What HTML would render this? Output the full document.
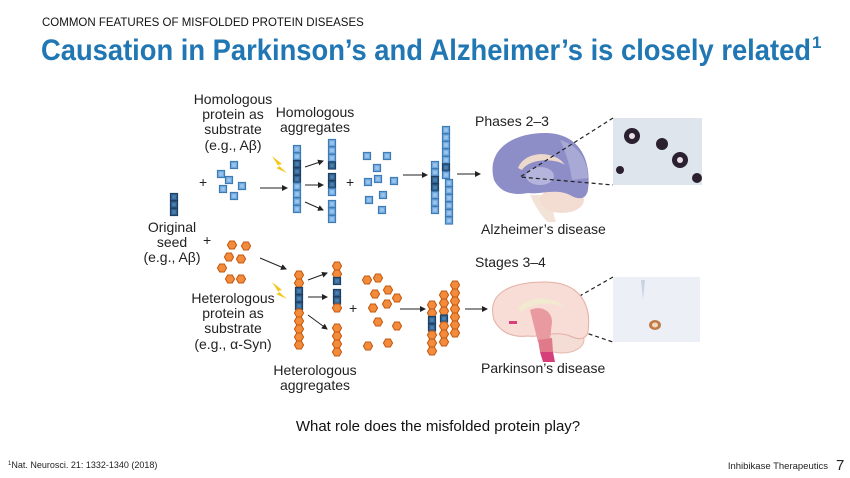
<!DOCTYPE html>
<html><head><meta charset="utf-8"><style>
html,body{margin:0;padding:0;background:#fff}
svg{display:block}
text{font-family:"Liberation Sans",Arial,sans-serif}
</style></head><body>
<svg width="850" height="478" viewBox="0 0 850 478" xmlns="http://www.w3.org/2000/svg">
<defs>
<symbol id="b" overflow="visible"><rect x="-3.6" y="-3.6" width="7.2" height="7.2" fill="#6ea8de" stroke="#3a76b0" stroke-width="1"/><rect x="-1.8" y="-1.8" width="3.6" height="3.6" fill="#9cc5ec"/></symbol>
<symbol id="d" overflow="visible"><rect x="-3.6" y="-3.6" width="7.2" height="7.2" fill="#2f5f8c" stroke="#1d3d5e" stroke-width="1"/><rect x="-1.8" y="-1.8" width="3.6" height="3.6" fill="#4a7fae"/></symbol>
<symbol id="h" overflow="visible"><polygon points="-4.6,0 -2.3,-4 2.3,-4 4.6,0 2.3,4 -2.3,4" fill="#f28b3b" stroke="#c2570f" stroke-width="1"/></symbol>
<marker id="ar" markerWidth="6" markerHeight="6" refX="5" refY="3" orient="auto"><path d="M0,0 L6,3 L0,6 z" fill="#222"/></marker>
</defs>

<text x="42" y="26" font-size="11.5" fill="#111">COMMON FEATURES OF MISFOLDED PROTEIN DISEASES</text>
<text x="41" y="60" font-size="30" font-weight="bold" fill="#2177b3" textLength="770" lengthAdjust="spacingAndGlyphs">Causation in Parkinson’s and Alzheimer’s is closely related</text>
<text x="812" y="48" font-size="17" font-weight="bold" fill="#2177b3">1</text>

<g font-size="14" fill="#222" text-anchor="middle">
<text x="233" y="104">Homologous</text><text x="233" y="119">protein as</text><text x="233" y="134">substrate</text><text x="233" y="150">(e.g., Aβ)</text>
<text x="315" y="117">Homologous</text><text x="315" y="132">aggregates</text>
<text x="172" y="232">Original</text><text x="172" y="247">seed</text><text x="172" y="262">(e.g., Aβ)</text>
<text x="233" y="303">Heterologous</text><text x="233" y="318">protein as</text><text x="233" y="333">substrate</text><text x="233" y="349">(e.g., α-Syn)</text>
<text x="315" y="375">Heterologous</text><text x="315" y="390">aggregates</text>
</g>
<g font-size="14" fill="#222">
<text x="475" y="126">Phases 2–3</text>
<text x="481" y="234">Alzheimer’s disease</text>
<text x="475" y="267">Stages 3–4</text>
<text x="481" y="373">Parkinson’s disease</text>
<text x="199" y="187">+</text><text x="346" y="187">+</text>
<text x="203" y="245">+</text><text x="349" y="313">+</text>
</g>

<!-- seed -->
<use href="#d" x="174" y="197"/><use href="#d" x="174" y="204.5"/><use href="#d" x="174" y="212"/>
<!-- blue monomers 1 -->
<use href="#b" x="234" y="165"/><use href="#b" x="221" y="174"/><use href="#b" x="229" y="180"/><use href="#b" x="242" y="186"/><use href="#b" x="223" y="189"/><use href="#b" x="234" y="196"/>
<!-- lightning -->
<polygon points="272,156 282,164 278,165 287,173 276,168 279,167" fill="#f5c518"/>
<polygon points="272,282 282,290 278,291 287,299 276,294 279,293" fill="#f5c518"/>
<!-- main blue column -->
<g>
<use href="#b" x="297" y="149"/><use href="#b" x="297" y="156.5"/><use href="#d" x="297" y="164"/><use href="#d" x="297" y="171.5"/><use href="#d" x="297" y="179"/><use href="#b" x="297" y="186.5"/><use href="#b" x="297" y="194"/><use href="#b" x="297" y="201.5"/><use href="#b" x="297" y="209"/>
</g>
<g stroke="#222" stroke-width="1" marker-end="url(#ar)">
<line x1="260" y1="188" x2="287" y2="188"/>
<line x1="305" y1="167" x2="323" y2="161"/><line x1="305" y1="185" x2="323" y2="185"/><line x1="305" y1="202" x2="323" y2="210"/>
<line x1="403" y1="175" x2="427" y2="175"/><line x1="457" y1="174" x2="480" y2="174"/>
<line x1="260" y1="258" x2="286" y2="269"/>
<line x1="308" y1="280" x2="327" y2="273"/><line x1="308" y1="297" x2="327" y2="297"/><line x1="308" y1="315" x2="327" y2="329"/>
<line x1="400" y1="309" x2="425" y2="309"/><line x1="465" y1="309" x2="487" y2="309"/>
</g>
<!-- small blue columns -->
<use href="#b" x="332" y="143"/><use href="#b" x="332" y="150.5"/><use href="#b" x="332" y="158"/><use href="#d" x="332" y="165.5"/>
<use href="#d" x="332" y="177"/><use href="#d" x="332" y="184.5"/><use href="#b" x="332" y="192"/>
<use href="#b" x="332" y="204"/><use href="#b" x="332" y="211.5"/><use href="#b" x="332" y="219"/>
<!-- blue monomers 2 -->
<use href="#b" x="367" y="156"/><use href="#b" x="387" y="156"/><use href="#b" x="377" y="168"/><use href="#b" x="368" y="182"/><use href="#b" x="378" y="179"/><use href="#b" x="394" y="181"/><use href="#b" x="369" y="200"/><use href="#b" x="383" y="195"/><use href="#b" x="382" y="210"/>
<!-- big blue aggregate -->
<use href="#b" x="435" y="165"/><use href="#b" x="435" y="172.5"/><use href="#d" x="435" y="180"/><use href="#d" x="435" y="187.5"/><use href="#b" x="435" y="195"/><use href="#b" x="435" y="202.5"/><use href="#b" x="435" y="210"/>
<use href="#b" x="446" y="130"/><use href="#b" x="446" y="137.5"/><use href="#b" x="446" y="145"/><use href="#b" x="446" y="152.5"/><use href="#b" x="446" y="160"/><use href="#d" x="446" y="167.5"/><use href="#b" x="446" y="175"/>
<use href="#b" x="449" y="183"/><use href="#b" x="449" y="190.5"/><use href="#b" x="449" y="198"/><use href="#b" x="449" y="205.5"/><use href="#b" x="449" y="213"/><use href="#b" x="449" y="220.5"/>

<!-- orange monomers 1 -->
<use href="#h" x="232" y="245"/><use href="#h" x="246" y="246"/><use href="#h" x="229" y="257"/><use href="#h" x="241" y="259"/><use href="#h" x="222" y="268"/><use href="#h" x="230" y="279"/><use href="#h" x="241" y="279"/>
<!-- main orange column -->
<use href="#h" x="299" y="275"/><use href="#h" x="299" y="283"/><use href="#d" x="299" y="291"/><use href="#d" x="299" y="298.5"/><use href="#d" x="299" y="306"/><use href="#h" x="299" y="313"/><use href="#h" x="299" y="321"/><use href="#h" x="299" y="329"/><use href="#h" x="299" y="337"/><use href="#h" x="299" y="345"/>
<!-- small orange columns -->
<use href="#h" x="337" y="266"/><use href="#h" x="337" y="274"/><use href="#d" x="337" y="281"/>
<use href="#d" x="337" y="293"/><use href="#d" x="337" y="300.5"/><use href="#h" x="337" y="308"/>
<use href="#h" x="337" y="328"/><use href="#h" x="337" y="336"/><use href="#h" x="337" y="344"/><use href="#h" x="337" y="352"/>
<!-- orange monomers 2 -->
<use href="#h" x="367" y="280"/><use href="#h" x="378" y="278"/><use href="#h" x="388" y="290"/><use href="#h" x="375" y="294"/><use href="#h" x="397" y="298"/><use href="#h" x="373" y="308"/><use href="#h" x="387" y="304"/><use href="#h" x="378" y="322"/><use href="#h" x="397" y="326"/><use href="#h" x="368" y="346"/><use href="#h" x="388" y="343"/>
<!-- orange aggregates -->
<use href="#h" x="432" y="305"/><use href="#h" x="432" y="313"/><use href="#d" x="432" y="320"/><use href="#d" x="432" y="327.5"/><use href="#h" x="432" y="335"/><use href="#h" x="432" y="343"/><use href="#h" x="432" y="351"/>
<use href="#h" x="444" y="295"/><use href="#h" x="444" y="303"/><use href="#h" x="444" y="311"/><use href="#d" x="444" y="318.5"/><use href="#h" x="444" y="326"/><use href="#h" x="444" y="334"/><use href="#h" x="444" y="342"/>
<use href="#h" x="455" y="285"/><use href="#h" x="455" y="293"/><use href="#h" x="455" y="301"/><use href="#h" x="455" y="309"/><use href="#h" x="455" y="317"/><use href="#h" x="455" y="325"/><use href="#h" x="455" y="333"/>

<!-- AD brain -->
<path d="M530,195 C535,205 540,215 548,222 L556,222 C552,212 552,202 556,195 Z" fill="#f3e3d6"/>
<ellipse cx="562" cy="200" rx="22" ry="13" fill="#f3ddd2"/>
<path d="M494,180 C486,150 512,133 545,133 C578,133 592,158 588,190 C586,200 578,200 570,195 C555,188 540,195 528,193 C512,196 500,192 494,180 Z" fill="#8d8dc8"/>
<path d="M560,140 C578,145 588,160 588,178 L572,180 C570,165 565,150 560,140 Z" fill="#a9a9d6"/>
<path d="M518,168 C525,150 555,150 565,165 C555,158 530,158 522,170 Z" fill="#ecd9cc"/>
<ellipse cx="540" cy="176" rx="14" ry="9" fill="#b4b4dc"/>
<rect x="613" y="118" width="89" height="67" fill="#dfe5ec"/>
<g fill="#2b2030"><circle cx="632" cy="136" r="8"/><circle cx="662" cy="144" r="6"/><circle cx="680" cy="160" r="8"/><circle cx="697" cy="178" r="5"/><circle cx="620" cy="170" r="4"/></g>
<g fill="#eadfe6"><circle cx="632" cy="136" r="3"/><circle cx="680" cy="160" r="3"/></g>
<g stroke="#222" stroke-width="1.2" stroke-dasharray="4,3" fill="none">
<path d="M613,118 L520,177 L613,185"/>
<path d="M613,277 L541,318 L613,342"/>
</g>

<!-- PD brain -->
<ellipse cx="562" cy="340" rx="22" ry="13" fill="#f4ddd4" stroke="#e8b8ac"/>
<path d="M494,320 C486,292 512,282 545,282 C578,282 592,302 588,332 C586,340 578,340 570,336 C555,330 540,338 528,336 C512,338 500,332 494,320 Z" fill="#f8dcd6" stroke="#e5aea4"/>
<path d="M518,310 C525,295 555,295 565,308 C555,302 530,302 522,312 Z" fill="#f2ead0"/>
<path d="M530,310 C540,305 552,310 552,322 L550,340 L538,342 Z" fill="#e89aa0"/>
<path d="M538,340 L552,338 L553,352 L540,352 Z" fill="#e07a8a"/>
<path d="M540,352 L553,352 L555,362 L543,362 Z" fill="#d6407a"/>
<rect x="509" y="321" width="8" height="3" fill="#d6407a"/>
<rect x="613" y="277" width="87" height="65" fill="#eceff5"/>
<ellipse cx="655" cy="325" rx="6" ry="5" fill="#c07a45"/><ellipse cx="655" cy="325" rx="3" ry="2.5" fill="#f1d9c0"/>
<path d="M641,280 L645,280 L643,300 Z" fill="#c9d3e3"/>

<text x="438" y="431" font-size="15" fill="#111" text-anchor="middle" font-family="Liberation Sans, sans-serif">What role does the misfolded protein play?</text>
<text x="8" y="468" font-size="9" fill="#222"><tspan font-size="6" dy="-3">1</tspan><tspan dy="3">Nat. Neurosci. 21:  1332-1340 (2018)</tspan></text>
<text x="828" y="469" font-size="9.5" fill="#222" text-anchor="end">Inhibikase Therapeutics</text>
<text x="836" y="470" font-size="15" fill="#222">7</text>
</svg>
</body></html>
